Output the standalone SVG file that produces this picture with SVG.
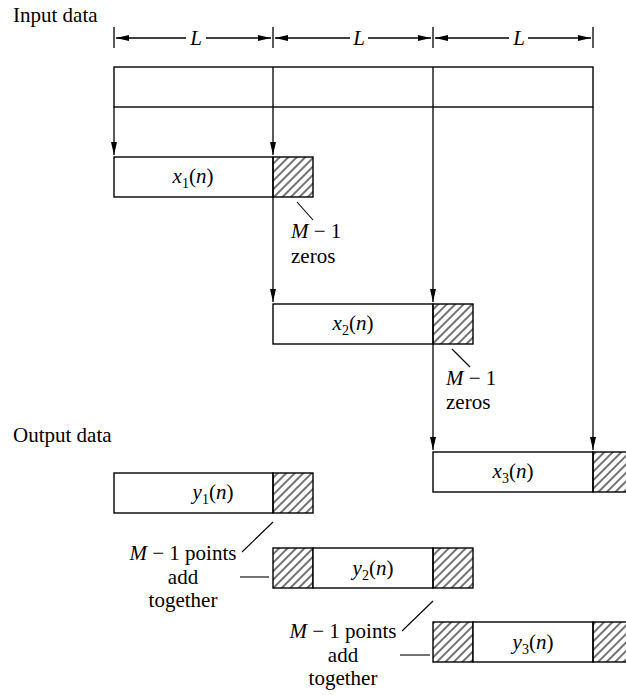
<svg xmlns="http://www.w3.org/2000/svg" width="626" height="695" viewBox="0 0 626 695">
<defs>
<pattern id="hatch" patternUnits="userSpaceOnUse" width="6" height="6" patternTransform="rotate(45)">
<line x1="3" y1="-1" x2="3" y2="7" stroke="#000" stroke-width="1.1"/>
</pattern>
<marker id="ah" markerUnits="userSpaceOnUse" markerWidth="14" markerHeight="8" refX="13" refY="4" orient="auto">
<path d="M0,1 L13,4 L0,7 z" fill="#000"/>
</marker>
</defs>
<style>
.t{font-family:"Liberation Serif","Times New Roman",serif;font-size:21px;fill:#000}
.i{font-style:italic}
.box{fill:#fff;stroke:#000;stroke-width:1.4}
.hb{fill:url(#hatch);stroke:#000;stroke-width:1.4}
.ln{stroke:#000;stroke-width:1.3;fill:none}
.ar{stroke:#000;stroke-width:1.3;fill:none;marker-end:url(#ah)}
.ld{stroke:#000;stroke-width:1.1;fill:none}
</style>
<rect width="626" height="695" fill="#fff"/>

<text class="t" x="13" y="22">Input data</text>
<text class="t" x="13" y="442">Output data</text>

<g id="dimension">
<line class="ln" x1="114" y1="27" x2="114" y2="48"/>
<line class="ln" x1="273" y1="27" x2="273" y2="48"/>
<line class="ln" x1="433" y1="27" x2="433" y2="48"/>
<line class="ln" x1="593" y1="27" x2="593" y2="48"/>
<line class="ar" x1="186" y1="38" x2="116" y2="38"/>
<line class="ar" x1="206" y1="38" x2="271" y2="38"/>
<line class="ar" x1="350" y1="38" x2="275" y2="38"/>
<line class="ar" x1="368" y1="38" x2="431" y2="38"/>
<line class="ar" x1="509" y1="38" x2="435" y2="38"/>
<line class="ar" x1="528" y1="38" x2="591" y2="38"/>
<text class="t i" x="196" y="45" text-anchor="middle">L</text>
<text class="t i" x="359" y="45" text-anchor="middle">L</text>
<text class="t i" x="519" y="45" text-anchor="middle">L</text>
</g>

<g id="input">
<rect class="box" x="114" y="67" width="479" height="40"/>
<line class="ln" x1="273" y1="67" x2="273" y2="107"/>
<line class="ln" x1="433" y1="67" x2="433" y2="107"/>
</g>

<g id="connectors">
<line class="ar" x1="114" y1="107" x2="114" y2="155"/>
<line class="ar" x1="273" y1="107" x2="273" y2="155"/>
<line class="ar" x1="273" y1="197" x2="273" y2="302"/>
<line class="ar" x1="433" y1="107" x2="433" y2="302"/>
<line class="ar" x1="433" y1="344" x2="433" y2="450"/>
<line class="ar" x1="593" y1="107" x2="593" y2="450"/>
</g>

<g id="x1">
<rect class="box" x="114" y="157" width="159" height="40"/>
<rect class="hb" x="273" y="157" width="40" height="40"/>
<text class="t" x="193" y="183" text-anchor="middle"><tspan class="i">x</tspan><tspan font-size="14" dy="5">1</tspan><tspan dy="-5">(</tspan><tspan class="i">n</tspan>)</text>
</g>

<g id="zeros1">
<line class="ld" x1="297" y1="202" x2="313" y2="220"/>
<text class="t" x="291" y="238"><tspan class="i">M</tspan> − 1</text>
<text class="t" x="291" y="263">zeros</text>
</g>

<g id="x2">
<rect class="box" x="273" y="304" width="160" height="40"/>
<rect class="hb" x="433" y="304" width="40" height="40"/>
<text class="t" x="353" y="330" text-anchor="middle"><tspan class="i">x</tspan><tspan font-size="14" dy="5">2</tspan><tspan dy="-5">(</tspan><tspan class="i">n</tspan>)</text>
</g>

<g id="zeros2">
<line class="ld" x1="452" y1="349" x2="470" y2="367"/>
<text class="t" x="446" y="385"><tspan class="i">M</tspan> − 1</text>
<text class="t" x="446" y="409">zeros</text>
</g>

<g id="x3">
<rect class="box" x="433" y="452" width="160" height="40"/>
<rect class="hb" x="593" y="452" width="40" height="40"/>
<text class="t" x="513" y="478" text-anchor="middle"><tspan class="i">x</tspan><tspan font-size="14" dy="5">3</tspan><tspan dy="-5">(</tspan><tspan class="i">n</tspan>)</text>
</g>

<g id="y1">
<rect class="box" x="114" y="473" width="159" height="40"/>
<rect class="hb" x="273" y="473" width="40" height="40"/>
<text class="t" x="213" y="499" text-anchor="middle"><tspan class="i">y</tspan><tspan font-size="14" dy="5">1</tspan><tspan dy="-5">(</tspan><tspan class="i">n</tspan>)</text>
</g>

<g id="add1">
<line class="ld" x1="273" y1="522" x2="242" y2="552"/>
<line class="ld" x1="240" y1="577" x2="269" y2="577"/>
<text class="t" x="183" y="560" text-anchor="middle"><tspan class="i">M</tspan> − 1 points</text>
<text class="t" x="183" y="584" text-anchor="middle">add</text>
<text class="t" x="183" y="607" text-anchor="middle">together</text>
</g>

<g id="y2">
<rect class="hb" x="273" y="548" width="40" height="40"/>
<rect class="box" x="313" y="548" width="120" height="40"/>
<rect class="hb" x="433" y="548" width="40" height="40"/>
<text class="t" x="373" y="575" text-anchor="middle"><tspan class="i">y</tspan><tspan font-size="14" dy="5">2</tspan><tspan dy="-5">(</tspan><tspan class="i">n</tspan>)</text>
</g>

<g id="add2">
<line class="ld" x1="433" y1="601" x2="402" y2="631"/>
<line class="ld" x1="400" y1="655" x2="430" y2="655"/>
<text class="t" x="343" y="638" text-anchor="middle"><tspan class="i">M</tspan> − 1 points</text>
<text class="t" x="343" y="662" text-anchor="middle">add</text>
<text class="t" x="343" y="685" text-anchor="middle">together</text>
</g>

<g id="y3">
<rect class="hb" x="433" y="622" width="40" height="40"/>
<rect class="box" x="473" y="622" width="120" height="40"/>
<rect class="hb" x="593" y="622" width="40" height="40"/>
<text class="t" x="533" y="649" text-anchor="middle"><tspan class="i">y</tspan><tspan font-size="14" dy="5">3</tspan><tspan dy="-5">(</tspan><tspan class="i">n</tspan>)</text>
</g>
</svg>
